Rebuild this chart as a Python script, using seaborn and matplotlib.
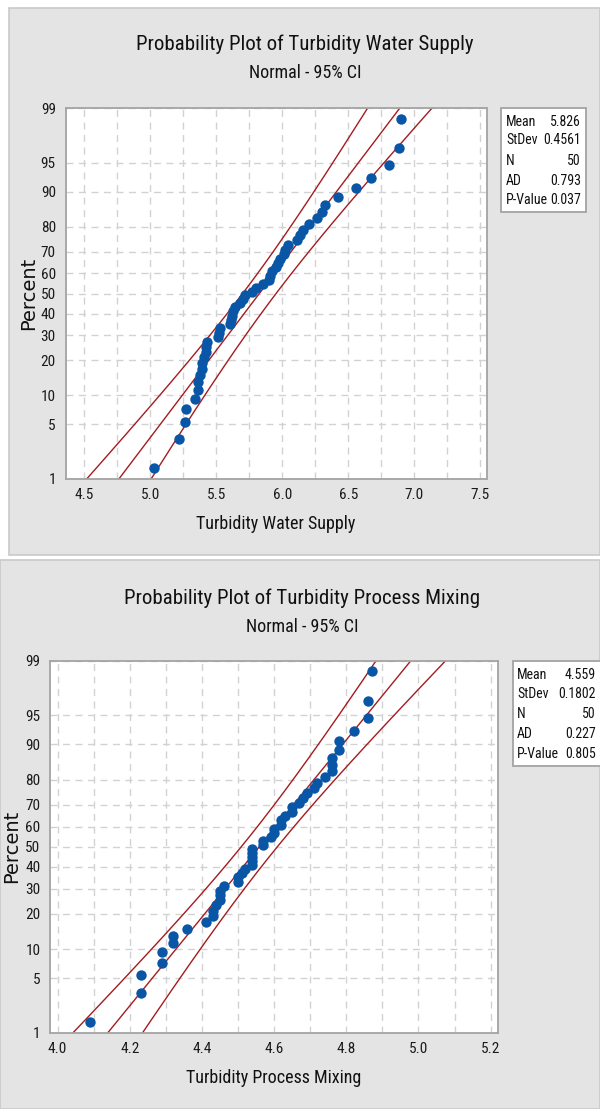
import numpy as np
import pandas as pd
import seaborn as sns
import matplotlib.pyplot as plt
from matplotlib import font_manager
from matplotlib.patches import Rectangle
from matplotlib.ticker import MultipleLocator, FixedLocator, NullLocator
from statistics import NormalDist

W, H = 600, 1109

water_supply = [5.03, 5.22, 5.26, 5.27, 5.34, 5.36, 5.36, 5.38, 5.39, 5.39,
                5.41, 5.42, 5.42, 5.43, 5.51, 5.52, 5.53, 5.60, 5.61, 5.62,
                5.63, 5.64, 5.68, 5.70, 5.72, 5.77, 5.80, 5.85, 5.90, 5.91,
                5.92, 5.95, 5.97, 5.98, 6.01, 6.02, 6.04, 6.11, 6.13, 6.16,
                6.20, 6.26, 6.30, 6.32, 6.42, 6.56, 6.67, 6.81, 6.88, 6.90]
process_mixing = [4.09, 4.23, 4.23, 4.29, 4.29, 4.32, 4.32, 4.36, 4.41, 4.43,
                  4.43, 4.44, 4.45, 4.45, 4.45, 4.46, 4.50, 4.50, 4.51, 4.52,
                  4.54, 4.54, 4.54, 4.54, 4.54, 4.57, 4.57, 4.59, 4.60, 4.60,
                  4.62, 4.62, 4.63, 4.65, 4.65, 4.67, 4.68, 4.69, 4.71, 4.72,
                  4.74, 4.76, 4.76, 4.76, 4.78, 4.78, 4.82, 4.86, 4.86, 4.87]

# summary table shown in the box next to each plot
stat_labels = ['Mean', 'StDev', 'N', 'AD', 'P-Value']
ws_stats = ['5.826', '0.4561', '50', '0.793', '0.037']
pm_stats = ['4.559', '0.1802', '50', '0.227', '0.805']
ws_mean, ws_sd = 5.826, 0.4561
pm_mean, pm_sd = 4.559, 0.1802

pct_ticks = [1, 5, 10, 20, 30, 40, 50, 60, 70, 80, 90, 95, 99]

BLUE = '#0a56a6'
RED = '#a31c20'
PANEL = '#e4e4e4'
GRID = '#d2d2d2'
SPINE = '#a3a3a3'

nd = NormalDist()

# pick a narrow face if one is around, the Minitab text is condensed
_names = {f.name for f in font_manager.fontManager.ttflist}
_narrow = [f.name for f in font_manager.fontManager.ttflist
           if f.stretch in ('condensed', 'semi-condensed', 'extra-condensed', 600, 700)]
FAMILY = []
for cand in ['Liberation Sans Narrow', 'Roboto Condensed', 'DejaVu Sans Condensed',
             'Open Sans Condensed', 'Noto Sans Condensed']:
    if cand in _names:
        FAMILY.append(cand)
for nm in ['DejaVu Sans', 'Noto Sans', 'Open Sans', 'Roboto']:
    if nm in _narrow and nm not in FAMILY:
        FAMILY.append(nm)
CONDENSED = len(FAMILY) > 0
FAMILY += ['Liberation Sans', 'DejaVu Sans']


def probit(p):
    p = np.clip(np.asarray(p, dtype=float) / 100.0, 1e-6, 1 - 1e-6)
    return np.array([nd.inv_cdf(v) for v in p.ravel()]).reshape(p.shape)


def probit_inv(z):
    z = np.asarray(z, dtype=float)
    return np.array([nd.cdf(v) for v in z.ravel()]).reshape(z.shape) * 100.0


def fig_box(x0, y0, x1, y1):
    # pixel box (top-left origin) -> figure fraction [l, b, w, h]
    return [x0 / W, 1 - y1 / H, (x1 - x0) / W, (y1 - y0) / H]


def draw_plot(fig, box, values, mean, sd, xlim, major, minor, xlabel, title,
              title_y, ylabel_x, stats, stats_box, stats_rows, stats_lx, stats_rx):
    n = len(values)
    df = pd.DataFrame({'x': values,
                       'pct': (np.arange(1, n + 1) - 0.3) / (n + 0.4) * 100})

    # fitted line and 95% CI bands
    z = np.linspace(-3.5, 3.5, 400)
    half = 1.96 * sd / np.sqrt(n) * np.sqrt(1 + z ** 2 / 2)
    bands = pd.DataFrame({'pct': probit_inv(z), 'fit': mean + sd * z,
                          'lo': mean + sd * z - half, 'hi': mean + sd * z + half})

    ax = fig.add_axes(fig_box(*box))
    ax.set_facecolor('white')
    ax.set_yscale('function', functions=(probit, probit_inv))
    for col in ['lo', 'fit', 'hi']:
        sns.lineplot(data=bands, x=col, y='pct', sort=False, estimator=None,
                     color=RED, lw=1.0, ax=ax)
    sns.scatterplot(data=df, x='x', y='pct', color=BLUE, s=56, edgecolor=BLUE,
                    linewidth=0, ax=ax, zorder=3)

    ax.set_xlim(*xlim)
    ax.set_ylim(1, 99)
    ax.yaxis.set_major_locator(FixedLocator(pct_ticks))
    ax.yaxis.set_minor_locator(NullLocator())
    ax.set_yticklabels([str(t) for t in pct_ticks])
    ax.xaxis.set_major_locator(MultipleLocator(major))
    ax.xaxis.set_minor_locator(MultipleLocator(minor))
    ax.set_xticks(ax.get_xticks())
    ax.set_xticklabels([f'{t:.1f}' for t in ax.get_xticks()])
    ax.set_xlim(*xlim)

    ax.grid(which='both', axis='x', color=GRID, lw=1.0, ls=(0, (5, 4)))
    ax.grid(which='major', axis='y', color=GRID, lw=1.0, ls=(0, (5, 4)))
    ax.set_axisbelow(True)
    for sp in ax.spines.values():
        sp.set_color(SPINE)
        sp.set_linewidth(1.3)
    ax.tick_params(which='major', direction='out', length=4, color=SPINE,
                   labelsize=TICK_FS, labelcolor='#1a1a1a', pad=3)
    ax.tick_params(which='minor', length=0)
    ax.set_xlabel(xlabel, fontsize=LABEL_FS, labelpad=9, color='#111111')
    ax.set_ylabel('')

    cx = (box[0] + box[2]) / 2
    fig.text(cx / W + 0.048, 1 - title_y / H, title, ha='center', va='center',
             fontsize=TITLE_FS, color='#111111')
    fig.text(cx / W + 0.048, 1 - (title_y + 29) / H, 'Normal - 95% CI',
             ha='center', va='center', fontsize=LABEL_FS, color='#111111')
    fig.text(ylabel_x / W, 1 - ((box[1] + box[3]) / 2) / H, 'Percent',
             rotation=90, ha='center', va='center', fontsize=14,
             family=['DejaVu Sans'], stretch='normal', color='#111111')

    # summary box
    sx0, sy0, sx1, sy1 = stats_box
    fig.patches.append(Rectangle((sx0 / W, 1 - sy1 / H), (sx1 - sx0) / W,
                                 (sy1 - sy0) / H, transform=fig.transFigure,
                                 facecolor='white', edgecolor=SPINE, lw=1.3, zorder=1))
    for lab, val, yy in zip(stat_labels, stats, stats_rows):
        fig.text(stats_lx / W, 1 - yy / H, lab, ha='left', va='center',
                 fontsize=STAT_FS, color='#111111')
        fig.text(stats_rx / W, 1 - yy / H, val, ha='right', va='center',
                 fontsize=STAT_FS, color='#111111')
    return ax


sns.set_style('white')
plt.rcParams['font.family'] = FAMILY
if CONDENSED:
    plt.rcParams['font.stretch'] = 'condensed'
    TITLE_FS, LABEL_FS, TICK_FS, STAT_FS = 15, 13, 11, 10
else:
    TITLE_FS, LABEL_FS, TICK_FS, STAT_FS = 14, 12, 10, 8.5

fig = plt.figure(figsize=(W / 100, H / 100), dpi=100)

# grey panels behind each chart
fig.patches.append(Rectangle((8.5 / W, 1 - 555 / H), (W - 8.5) / W, (555 - 7.5) / H,
                             transform=fig.transFigure, facecolor=PANEL,
                             edgecolor='#c9c9c9', lw=1.2, zorder=-10))
fig.patches.append(Rectangle((0, 0), 1, (H - 560) / H,
                             transform=fig.transFigure, facecolor=PANEL,
                             edgecolor='#c9c9c9', lw=1.2, zorder=-10))

draw_plot(fig, (65.5, 108.5, 486.5, 478.5), water_supply, ws_mean, ws_sd,
          (4.358, 7.546), 0.5, 0.25, 'Turbidity Water Supply',
          'Probability Plot of Turbidity Water Supply', 44, 29,
          ws_stats, (501, 108, 586, 212), [122.5, 140.5, 161, 181, 199.5], 506, 581)

draw_plot(fig, (50, 661, 497.5, 1032.5), process_mixing, pm_mean, pm_sd,
          (3.979, 5.219), 0.2, 0.1, 'Turbidity Process Mixing',
          'Probability Plot of Turbidity Process Mixing', 598, 12,
          pm_stats, (513, 661, 602, 766), [675, 694.5, 714.5, 734.5, 753.5], 517, 596)

fig.savefig('out.png', dpi=100)
